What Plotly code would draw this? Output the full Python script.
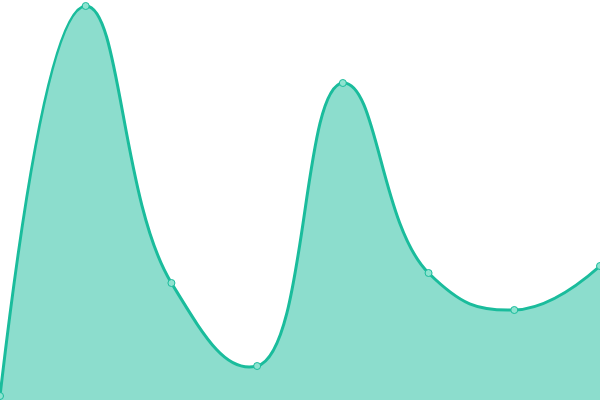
import plotly.graph_objects as go

x_vals = [0, 1, 2, 3, 4, 5, 6, 7]
y_vals = [4, 394, 117, 34, 317, 127, 90, 134]

fig = go.Figure()
fig.add_trace(go.Scatter(
    x=x_vals, y=y_vals,
    mode="lines+markers",
    line=dict(color="#1abc9c", width=3, shape="spline", smoothing=1.3),
    fill="tozeroy",
    fillcolor="rgba(26,188,156,0.5)",
    marker=dict(size=7, color="#8ee3d0", line=dict(color="#1abc9c", width=1)),
    hoverinfo="x+y",
))
fig.update_layout(
    width=600, height=400,
    margin=dict(l=0, r=0, t=0, b=0),
    paper_bgcolor="white", plot_bgcolor="white",
    showlegend=False,
    xaxis=dict(range=[0, 7], visible=False, fixedrange=True),
    yaxis=dict(range=[0, 400], visible=False, fixedrange=True),
)
fig.write_html(
    "out.html",
    config={"displayModeBar": False},
    post_script="document.body.style.margin='0';document.body.style.overflow='hidden';",
)
